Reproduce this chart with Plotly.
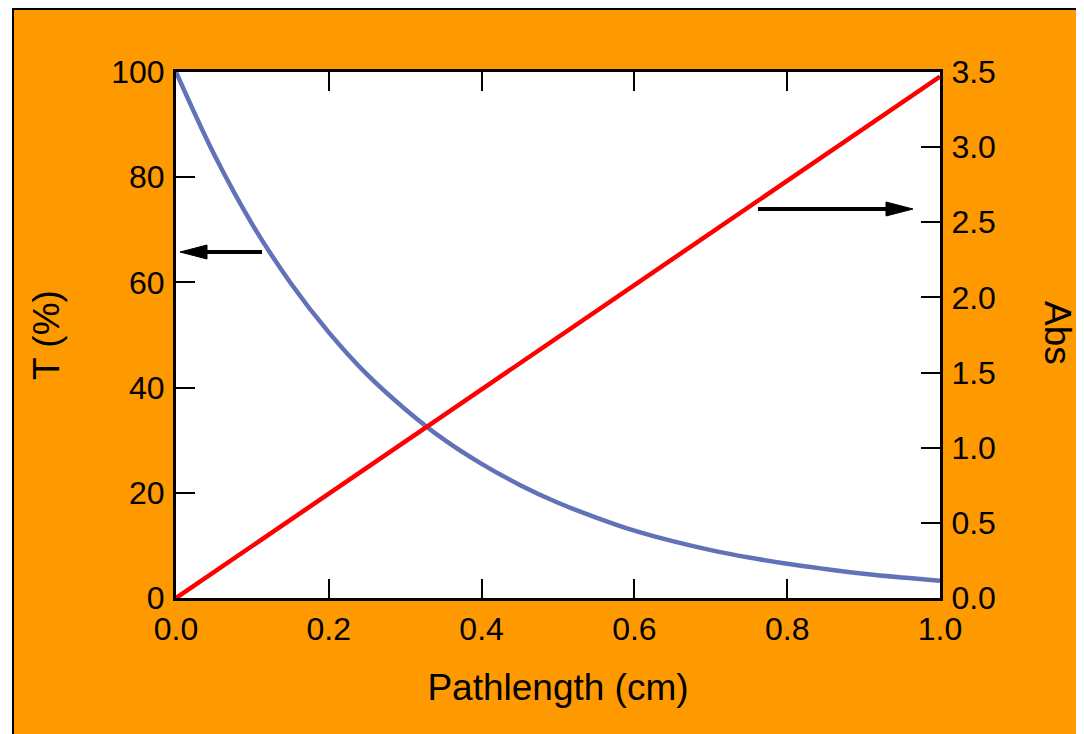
import plotly.graph_objects as go

# Data
pathlength = [0.0, 0.05, 0.1, 0.15, 0.2, 0.25, 0.3, 0.35, 0.4, 0.45, 0.5,
              0.55, 0.6, 0.65, 0.7, 0.75, 0.8, 0.85, 0.9, 0.95, 1.0]
transmittance = [100.0, 84.3, 71.0, 59.9, 50.5, 42.5, 35.9, 30.2, 25.5, 21.5, 18.1,
                 15.3, 12.8, 10.8, 9.1, 7.7, 6.5, 5.5, 4.6, 3.9, 3.3]
abs_x = [0.0, 1.0]
absorbance = [0.0, 3.47]

x_ticks = [0.0, 0.2, 0.4, 0.6, 0.8, 1.0]
x_ticktext = ["0.0", "0.2", "0.4", "0.6", "0.8", "1.0"]
t_ticks = [0, 20, 40, 60, 80, 100]
abs_ticks = [0.0, 0.5, 1.0, 1.5, 2.0, 2.5, 3.0, 3.5]

ORANGE = "#FF9900"
BLUE = "#6272B8"
RED = "#FF0000"
FONT = "Liberation Sans, Arial, sans-serif"

OFF = 8                     # page body margin
W, H = 1084, 734            # figure overflows the window like the reference
L, R, T, B = 176 - OFF, 940 - OFF, 72 - OFF, 598 - OFF  # plot area (figure px)


def px_x(p):
    return (p - L) / (R - L)


def px_y(p):
    return (B - p) / (B - T)


# pixel -> data helpers for decorations (arrows)
def dx(p):
    return px_x(p)


def dT(p):
    return px_y(p) * 100


HEAD_LEN, HEAD_HALF = 27, 7


def arrow(tail_px, tip_px, y_px):
    direction = 1 if tip_px > tail_px else -1
    base = tip_px - direction * HEAD_LEN
    line = dict(type="line", xref="x", yref="y",
                x0=dx(tail_px), x1=dx(base + direction * 2), y0=dT(y_px), y1=dT(y_px),
                line=dict(color="black", width=4))
    head = dict(type="path", xref="x", yref="y",
                path=(f"M {dx(tip_px)} {dT(y_px)} "
                      f"L {dx(base)} {dT(y_px - HEAD_HALF)} "
                      f"L {dx(base)} {dT(y_px + HEAD_HALF)} Z"),
                fillcolor="black", line=dict(color="black", width=1))
    return [line, head]


fig = go.Figure()
fig.add_trace(go.Scatter(x=pathlength, y=transmittance, mode="lines",
                         line=dict(color=BLUE, width=4.5, shape="spline"),
                         yaxis="y", showlegend=False, cliponaxis=False))
fig.add_trace(go.Scatter(x=abs_x, y=absorbance, mode="lines",
                         line=dict(color=RED, width=4.5),
                         yaxis="y2", showlegend=False, cliponaxis=False))

axis_common = dict(ticks="inside", ticklen=19, tickwidth=2, tickcolor="black",
                   showline=True, linewidth=3, linecolor="black",
                   showgrid=False, zeroline=False,
                   tickfont=dict(family=FONT, size=32, color="black"))

shapes = [
    dict(type="rect", xref="paper", yref="paper", layer="below",
         x0=px_x(-20), x1=px_x(5), y0=px_y(H + 20), y1=px_y(-20),
         fillcolor="white", line=dict(width=0)),
    dict(type="line", xref="paper", yref="paper",
         x0=px_x(5), x1=px_x(W + 20), y0=px_y(1), y1=px_y(1),
         line=dict(color="black", width=2)),
    dict(type="line", xref="paper", yref="paper",
         x0=px_x(5), x1=px_x(5), y0=px_y(0), y1=px_y(H + 20),
         line=dict(color="black", width=2)),
]
shapes += arrow(262 - OFF, 180 - OFF, 252 - OFF)
shapes += arrow(758 - OFF, 913 - OFF, 209 - OFF)

fig.update_layout(
    width=W, height=H,
    margin=dict(l=L, r=W - R, t=T, b=H - B, pad=0),
    paper_bgcolor=ORANGE, plot_bgcolor="white",
    font=dict(family=FONT, color="black"),
    xaxis=dict(range=[0, 1], tickvals=x_ticks, ticktext=x_ticktext,
               mirror="ticks", ticklabelstandoff=1,
               title=dict(text="Pathlength (cm)", font=dict(size=37), standoff=28),
               **axis_common),
    yaxis=dict(range=[0, 100], tickvals=t_ticks, ticklabelstandoff=2,
               title=dict(text="T (%)", font=dict(size=37), standoff=41),
               **axis_common),
    yaxis2=dict(range=[0, 3.5], tickvals=abs_ticks, tickformat=".1f",
                overlaying="y", side="right", ticklabelstandoff=2,
                **axis_common),
    shapes=shapes,
    annotations=[
        dict(text="Abs", textangle=90, xref="paper", yref="paper",
             x=px_x(1058 - OFF), y=px_y(333 - OFF), showarrow=False,
             xanchor="center", yanchor="middle",
             font=dict(family=FONT, size=37, color="black")),
    ],
)

fig.write_html(
    "out.html",
    post_script="document.documentElement.style.overflow='hidden';"
                "document.body.style.overflow='hidden';",
)
